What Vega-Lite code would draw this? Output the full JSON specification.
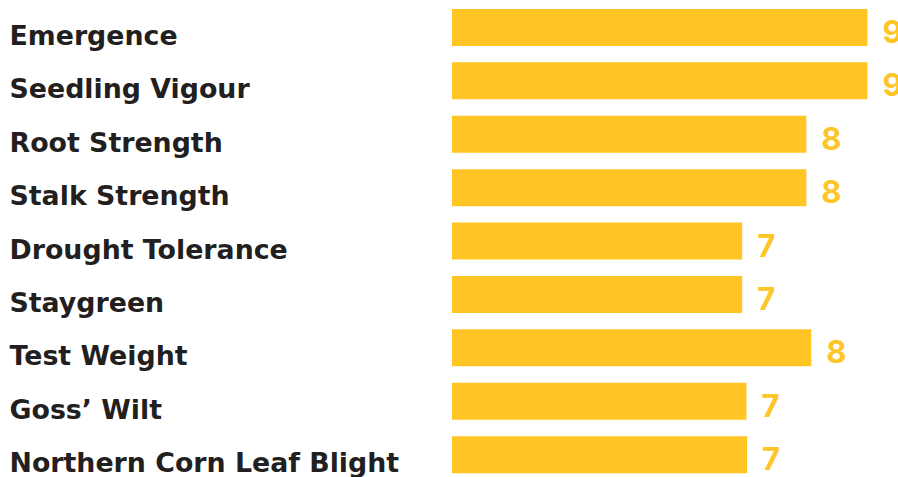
{
  "$schema": "https://vega.github.io/schema/vega-lite/v6.json",
  "width": 446,
  "height": 477,
  "autosize": "none",
  "padding": {"left": 452, "top": 0, "right": 0, "bottom": 0},
  "background": "white",
  "config": {"view": {"stroke": null}},
  "data": {
    "values": [
      {"trait": "Emergence", "score": 9, "rating": 9.0},
      {"trait": "Seedling Vigour", "score": 9, "rating": 9.0},
      {"trait": "Root Strength", "score": 8, "rating": 8.0},
      {"trait": "Stalk Strength", "score": 8, "rating": 8.0},
      {"trait": "Drought Tolerance", "score": 7, "rating": 6.95},
      {"trait": "Staygreen", "score": 7, "rating": 6.95},
      {"trait": "Test Weight", "score": 8, "rating": 8.08},
      {"trait": "Goss’ Wilt", "score": 7, "rating": 7.02},
      {"trait": "Northern Corn Leaf Blight", "score": 7, "rating": 7.03}
    ]
  },
  "encoding": {
    "y": {
      "field": "trait",
      "type": "nominal",
      "sort": null,
      "scale": {"paddingInner": 0.307, "paddingOuter": 0.12, "align": 0.7},
      "axis": {
        "title": null,
        "domain": false,
        "ticks": false,
        "labelAlign": "left",
        "labelBaseline": "alphabetic",
        "labelOffset": 17.5,
        "labelPadding": 443,
        "labelFont": "DejaVu Sans",
        "labelFontWeight": "bold",
        "labelFontSize": 26.8,
        "labelColor": "#231f20",
        "labelLimit": 0
      }
    }
  },
  "layer": [
    {
      "mark": {"type": "bar", "color": "#fec524"},
      "encoding": {
        "x": {
          "field": "rating",
          "type": "quantitative",
          "scale": {"domain": [2.2, 9.5], "zero": false, "nice": false},
          "axis": null
        },
        "x2": {"datum": 2.2}
      }
    },
    {
      "mark": {
        "type": "text",
        "align": "left",
        "baseline": "alphabetic",
        "dx": 15,
        "dy": 15.5,
        "font": "Inter",
        "fontWeight": "bold",
        "fontSize": 31,
        "color": "#fdc526"
      },
      "encoding": {
        "x": {"field": "rating", "type": "quantitative"},
        "text": {"field": "score", "type": "quantitative"}
      }
    }
  ]
}
